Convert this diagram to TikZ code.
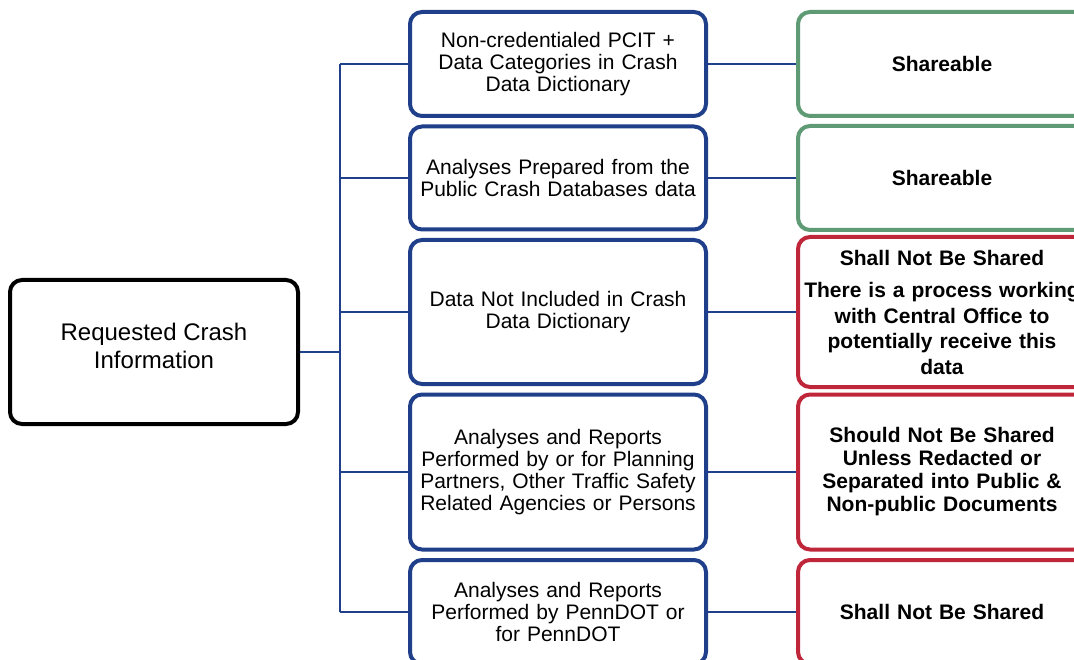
\documentclass[tikz,border=0pt]{standalone}
\usepackage{fontspec}
\setmainfont{Liberation Sans}
\definecolor{navy}{HTML}{1F3F8A}
\definecolor{okgreen}{HTML}{5E9A73}
\definecolor{nored}{HTML}{C0263A}
\begin{document}
\begin{tikzpicture}[x=1pt,y=-1pt,
  box/.style={draw, line width=4pt, rounded corners=12pt, fill=white,
    align=center, inner sep=0pt},
  rootbox/.style={box, draw=black, minimum width=288pt, minimum height=144pt},
  roottext/.style={align=center, inner sep=0pt, font=\fontsize{24}{28}\selectfont},
  catbox/.style={box, draw=navy, minimum width=296pt, text width=290pt,
    font=\fontsize{21}{22}\selectfont},
  sharebox/.style={box, draw=okgreen, minimum width=288pt, text width=284pt,
    font=\bfseries\fontsize{21}{23}\selectfont},
  denybox/.style={box, draw=nored, minimum width=288pt, text width=284pt,
    font=\bfseries\fontsize{21}{23}\selectfont},
  link/.style={draw=navy, line width=2pt}]
\useasboundingbox (0,0) rectangle (1074,660);

% root of the tree, its caption sitting a little above centre
\node[rootbox] (root) at (154,352) {};
\node[roottext] (rootlabel) at (154,346) {Requested Crash\\Information};

% categories of requested data
\node[catbox, minimum height=104pt] (c1) at (558,64)
  {Non-credentialed PCIT +\\Data Categories in Crash\\Data Dictionary};
\node[catbox, minimum height=103pt] (c2) at (558,178)
  {Analyses Prepared from the\\Public Crash Databases data};
\node[catbox, minimum height=144pt] (c3) at (558,312)
  {Data Not Included in Crash\\Data Dictionary};
\node[catbox, minimum height=155pt] (c4) at (558,472)
  {Analyses and Reports\\Performed by or for Planning\\Partners, Other Traffic Safety\\Related Agencies or Persons};
\node[catbox, minimum height=104pt] (c5) at (558,612)
  {Analyses and Reports\\Performed by PennDOT or\\for PennDOT};

% sharing decisions
\node[sharebox, minimum height=104pt] (d1) at (942,64) {Shareable};
\node[sharebox, minimum height=104pt] (d2) at (942,178) {Shareable};
\node[denybox, minimum height=150pt,
  font=\bfseries\fontsize{21}{25.5}\selectfont] (d3) at (942,312)
  {Shall Not Be Shared\\[7pt]\makebox[\linewidth]{There is a process working}\\with Central Office to\\potentially receive this\\data};
\node[denybox, minimum height=155pt] (d4) at (942,472)
  {Should Not Be Shared\\Unless Redacted or\\Separated into Public \&\\Non-public Documents};
\node[denybox, minimum height=104pt] (d5) at (942,612) {Shall Not Be Shared};

% tree connectors
\coordinate (trunktop) at (340,64);
\coordinate (trunkbot) at (340,612);
\path[link] (trunktop) -- (trunkbot);
\path[link] (root.east) -- (root.east -| trunktop);
\foreach \c in {c1,c2,c3,c4,c5}
  \path[link] (trunktop |- \c.west) -- (\c.west);
\foreach \c/\d in {c1/d1,c2/d2,c3/d3,c4/d4,c5/d5}
  \path[link] (\c.east) -- (\d.west);
\end{tikzpicture}
\end{document}
